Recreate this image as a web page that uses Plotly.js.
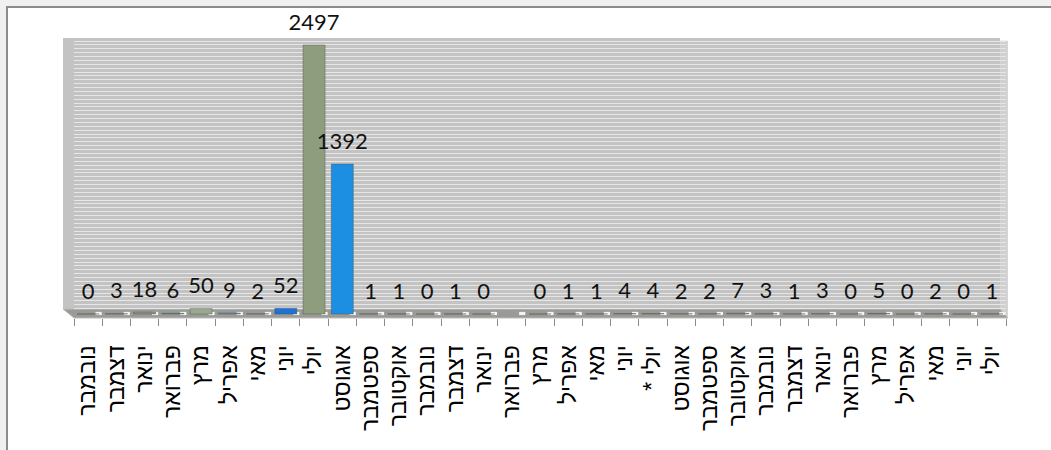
<!DOCTYPE html>
<html><head><meta charset="utf-8">
<script src="https://cdn.plot.ly/plotly-3.0.1.min.js"></script>
<style>html,body{margin:0;padding:0;background:#ffffff;overflow:hidden;}#chart{width:1051px;height:450px;}</style>
</head><body><div id="chart"></div>
<script>
// Category labels (Hebrew months, Nov -> Jul, 33 periods)
const months = ['נובמבר','דצמבר','ינואר','פברואר','מרץ','אפריל','מאי','יוני','יולי','אוגוסט','ספטמבר','אוקטובר',
                'נובמבר','דצמבר','ינואר','פברואר','מרץ','אפריל','מאי','יוני','יולי *\u200F','אוגוסט','ספטמבר','אוקטובר',
                'נובמבר','דצמבר','ינואר','פברואר','מרץ','אפריל','מאי','יוני','יולי'];
// Values read from the data labels (פברואר of the 2nd year has no label)
const counts = [0,3,18,6,50,9,2,52,2497,1392,1,1,
                0,1,0,null,0,1,1,4,4,2,2,7,
                3,1,3,0,5,0,2,0,1];
// Bar colours
const barColors = ['#8c8c88','#8c8c88','#8f9488','#4f9a88','#9aa88e','#7f86c0','#5a9e90','#1c72d6','#8d9d7e','#1d8fe2','#8d9880','#4f9a88',
                   '#4f9a88','#8c8c88','#8c8c88','#8c8c88','#8c8c88','#8c8c88','#8c8c88','#8c8c88','#8c8c88','#8c8c88','#8c8c88','#8c8c88',
                   '#8c8c88','#8c8c88','#8c8c88','#8c8c88','#8c8c88','#8c8c88','#8c8c88','#8c8c88','#8c8c88'];

const idx = months.map((_, i) => i);
const labels = counts.map(v => v === null ? '' : String(v));
const boundaries = months.map((_, i) => i - 0.5).concat([months.length - 0.5]);
const tickText = months.concat(['']);

const Y0 = -37, Y1 = 2562;
const gridVals = []; for (let g = 50; g < Y1; g += 36) gridVals.push(g);

const shapes = [
  // light gray outside strips (left and top)
  {type:'rect', xref:'paper', yref:'paper', x0:-0.2, x1:-0.0719, y0:-0.8, y1:1.3,
   fillcolor:'#f0f0f0', line:{width:0}, layer:'below'},
  {type:'rect', xref:'paper', yref:'paper', x0:-0.2, x1:1.3, y0:1.1107, y1:1.3,
   fillcolor:'#f0f0f0', line:{width:0}, layer:'below'},
  // frame border: left and top edges only
  {type:'path', xref:'paper', yref:'paper', path:'M -0.0719 -0.8 L -0.0719 1.1107 L 1.3 1.1107',
   line:{color:'#8c8c8c', width:2}, layer:'below'},
  // back wall
  {type:'rect', xref:'paper', yref:'paper', x0:-0.0118, x1:0.9936, y0:0.032, y1:1,
   fillcolor:'#c3c3c3', line:{width:0}, layer:'below'},
  // right wall edge
  {type:'rect', xref:'paper', yref:'paper', x0:0.9936, x1:1.002, y0:0.0, y1:0.99,
   fillcolor:'#d0d0d0', line:{width:0}, layer:'below'},
  // floor
  {type:'path', xref:'paper', yref:'paper',
   path:'M -0.0118 0.032 L 0.9936 0.032 L 1.002 0 L 0 0 Z',
   fillcolor:'#9a9a96', line:{color:'#bdbdbb', width:1}, layer:'below'}
];
boundaries.forEach(b => {
  shapes.push({type:'rect', xref:'x', yref:'y', x0:b - 0.24, x1:b - 0.02, y0:-10, y1:20,
               fillcolor:'#f4f4f4', line:{width:0}, layer:'below'});
});

const bars = {
  type:'bar', x:idx, y:counts, width:0.78,
  marker:{color:barColors, line:{color:'rgba(60,70,60,0.35)', width:1}},
  hoverinfo:'skip', showlegend:false
};
const text = {
  type:'scatter', mode:'markers+text', x:idx, y:counts.map(v => v === null ? 0 : v), text:labels,
  textposition:'top center', marker:{size:14, opacity:0},
  textfont:{family:'Lato, "Open Sans", sans-serif', size:22, color:'#111'},
  hoverinfo:'skip', showlegend:false, cliponaxis:false
};

const layout = {
  width:1051, height:450,
  margin:{l:74, r:45, t:38, b:132},
  paper_bgcolor:'#ffffff', plot_bgcolor:'rgba(0,0,0,0)',
  showlegend:false,
  xaxis:{range:[-0.5, months.length - 0.5], tickmode:'array', tickvals:boundaries, ticktext:tickText,
         tickangle:-90, ticks:'outside', ticklen:7, tickcolor:'#8a8a8a', tickwidth:1,
         ticklabelshift:14, ticklabelstandoff:10,
         tickfont:{family:'"Liberation Sans", Arial, sans-serif', size:23, color:'#000'},
         showgrid:false, zeroline:false, showline:false, fixedrange:true},
  yaxis:{range:[Y0, Y1], tickmode:'array', tickvals:gridVals, showticklabels:false,
         showgrid:true, gridcolor:'#e6e6e6', gridwidth:1, zeroline:false, showline:false, fixedrange:true},
  shapes:shapes,
  bargap:0.2
};
Plotly.newPlot('chart', [bars, text], layout, {staticPlot:true, displayModeBar:false});
</script>
</body></html>
